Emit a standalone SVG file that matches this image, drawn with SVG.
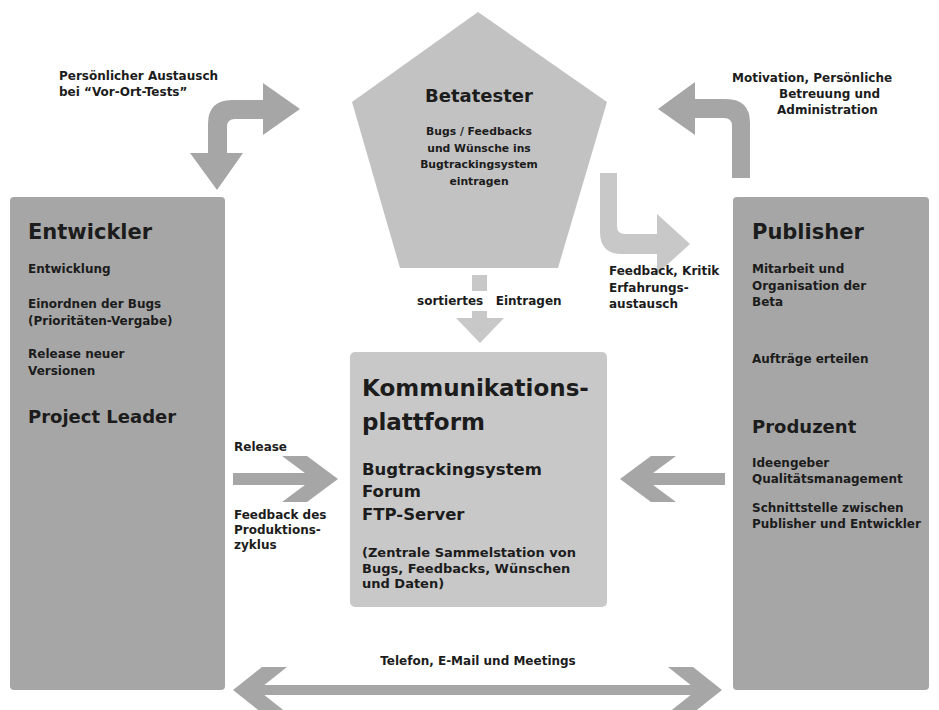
<svg xmlns="http://www.w3.org/2000/svg" width="939" height="710" viewBox="0 0 939 710">
<style>
text{font-family:"DejaVu Sans","Liberation Sans",sans-serif;font-weight:bold;fill:#1c1c1c}
.t21{font-size:21px}.t18{font-size:18px}.t12{font-size:12px}.t11{font-size:10.8px}
.t23{font-size:23px}.t16{font-size:16.5px}.t13{font-size:13px}
.dark{fill:#a6a6a6}.light{fill:#c8c8c8}.mid{fill:#c2c2c2}
</style>
<rect width="939" height="710" fill="#ffffff"/>
<g id="connectors">
  <path id="arrow-vorort" class="dark" d="M208 153 L208 124 Q208 100 232 100 L263 100 L263 83 L300 109 L263 135 L263 119 L235 119 Q227 119 227 127 L227 153 L243 153 L217 190 L190 153 Z"/>
  <path id="arrow-motivation" class="dark" d="M732 178 L732 126 Q732 118 724 118 L695 118 L695 135 L658 109 L695 82 L695 99 L726 99 Q750 99 750 123 L750 178 Z"/>
  <path id="arrow-feedback" class="light" d="M600 173 L617 173 L617 226 Q617 234 625 234 L657 234 L657 214 L690 244 L657 274 L657 254 L622 254 Q600 254 600 232 Z"/>
  <g id="arrow-sortiert" class="light">
    <rect x="472" y="275" width="15" height="16"/>
    <rect x="472" y="311" width="15" height="14"/>
    <polygon points="456,318 474,318 480,325 486,318 504,318 480,343"/>
  </g>
  <g id="arrow-release" class="dark">
    <rect x="233" y="473" width="85" height="12"/>
    <polygon points="282,456 307,456 338,479 307,502 282,502 313,479"/>
  </g>
  <g id="arrow-produzent" class="dark">
    <rect x="640" y="473" width="85" height="12"/>
    <polygon points="676,456 651,456 620,479 651,502 676,502 645,479"/>
  </g>
  <g id="arrow-telefon" class="dark">
    <rect x="255" y="685" width="445" height="10"/>
    <polygon points="287,667 262,667 233,690 262,713 287,713 258,690"/>
    <polygon points="668,667 693,667 722,690 693,713 668,713 697,690"/>
  </g>
</g>
<g id="betatester">
  <polygon class="mid" points="478,12 607,102 558,268 400,268 352,102"/>
  <text class="t18" x="479" y="102" text-anchor="middle">Betatester</text>
  <text class="t11" x="479" y="135" text-anchor="middle">Bugs / Feedbacks</text>
  <text class="t11" x="479" y="152" text-anchor="middle">und Wünsche ins</text>
  <text class="t11" x="479" y="168" text-anchor="middle">Bugtrackingsystem</text>
  <text class="t11" x="479" y="185" text-anchor="middle">eintragen</text>
</g>
<g id="entwickler">
  <rect class="dark" x="10" y="197" width="215" height="493" rx="4"/>
  <text class="t21" x="28" y="239">Entwickler</text>
  <text class="t12" x="28" y="273">Entwicklung</text>
  <text class="t12" x="28" y="308">Einordnen der Bugs</text>
  <text class="t12" x="28" y="325">(Prioritäten-Vergabe)</text>
  <text class="t12" x="28" y="358">Release neuer</text>
  <text class="t12" x="28" y="375">Versionen</text>
  <text class="t18" x="28" y="423">Project Leader</text>
</g>
<g id="publisher">
  <rect class="dark" x="733" y="197" width="196" height="493" rx="4"/>
  <text class="t21" x="752" y="239">Publisher</text>
  <text class="t12" x="752" y="273">Mitarbeit und</text>
  <text class="t12" x="752" y="290">Organisation der</text>
  <text class="t12" x="752" y="306">Beta</text>
  <text class="t12" x="752" y="363">Aufträge erteilen</text>
  <text class="t18" x="752" y="433">Produzent</text>
  <text class="t12" x="752" y="467">Ideengeber</text>
  <text class="t12" x="752" y="483">Qualitätsmanagement</text>
  <text class="t12" x="752" y="512">Schnittstelle zwischen</text>
  <text class="t12" x="752" y="528">Publisher und Entwickler</text>
</g>
<g id="kommunikationsplattform">
  <rect class="light" x="350" y="352" width="257" height="255" rx="5"/>
  <text class="t23" x="362" y="396">Kommunikations-</text>
  <text class="t23" x="362" y="430">plattform</text>
  <text class="t16" x="362" y="475">Bugtrackingsystem</text>
  <text class="t16" x="362" y="497">Forum</text>
  <text class="t16" x="362" y="520">FTP-Server</text>
  <text class="t13" x="362" y="557">(Zentrale Sammelstation von</text>
  <text class="t13" x="362" y="573">Bugs, Feedbacks, Wünschen</text>
  <text class="t13" x="362" y="588">und Daten)</text>
</g>
<g id="labels">
  <text class="t12" x="59" y="80">Persönlicher Austausch</text>
  <text class="t12" x="59" y="96">bei “Vor-Ort-Tests”</text>
  <text class="t12" x="732" y="82">Motivation, Persönliche</text>
  <text class="t12" x="779" y="98">Betreuung und</text>
  <text class="t12" x="777" y="114">Administration</text>
  <text class="t12" x="609" y="275">Feedback, Kritik</text>
  <text class="t12" x="609" y="292">Erfahrungs-</text>
  <text class="t12" x="609" y="308">austausch</text>
  <text class="t12" x="417" y="305" xml:space="preserve">sortiertes   Eintragen</text>
  <text class="t12" x="234" y="451">Release</text>
  <text class="t12" x="234" y="519">Feedback des</text>
  <text class="t12" x="234" y="534">Produktions-</text>
  <text class="t12" x="234" y="549">zyklus</text>
  <text class="t12" x="478" y="665" text-anchor="middle">Telefon, E-Mail und Meetings</text>
</g>
</svg>
